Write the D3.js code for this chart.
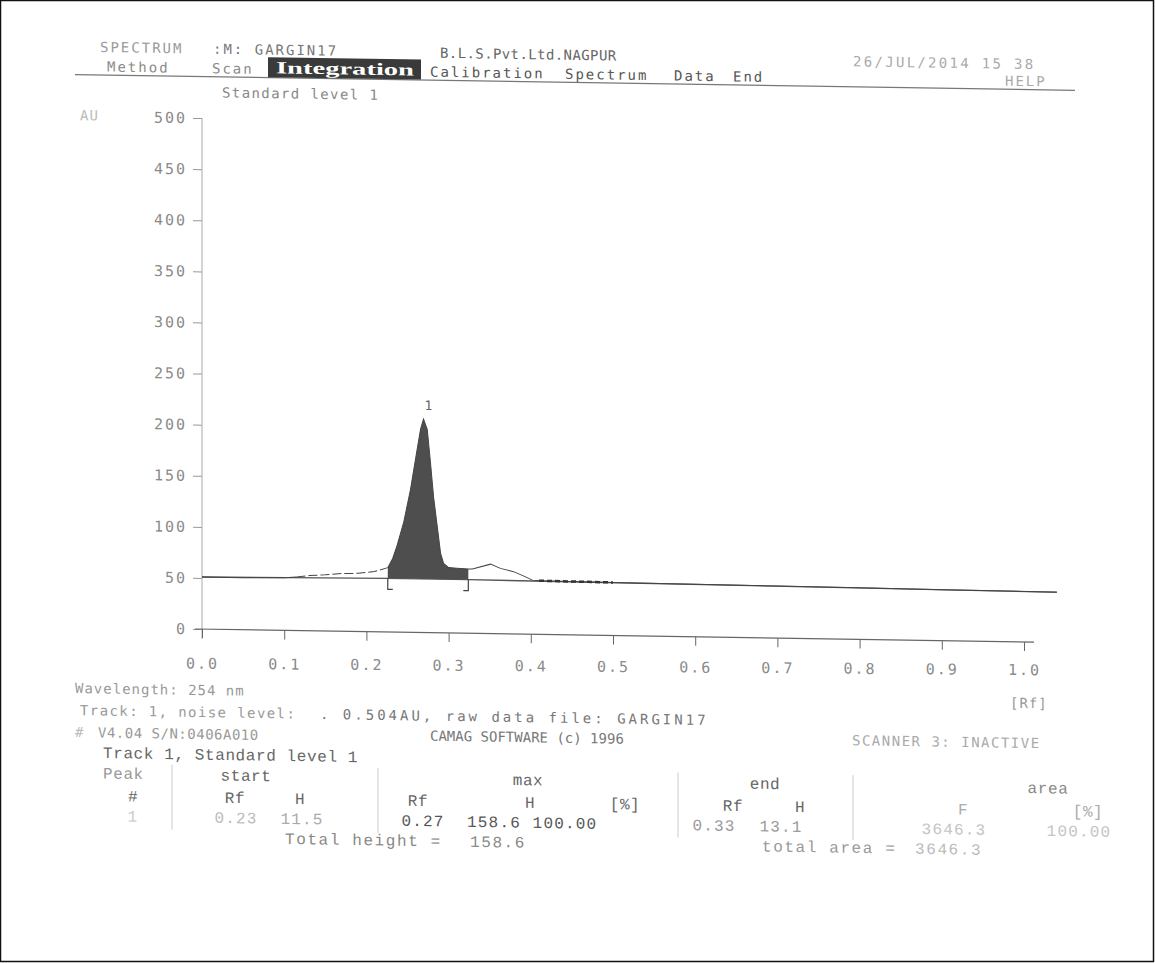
<!DOCTYPE html>
<html>
<head>
<meta charset="utf-8">
<script src="https://cdn.jsdelivr.net/npm/d3@7"></script>
<style>
  body { margin: 0; background: #fff; }
  svg { display: block; }
  .dot { font-family: "DejaVu Sans Mono", monospace; }
  .cour { font-family: "Liberation Mono", monospace; }
</style>
</head>
<body>
<svg id="scan"></svg>
<script>
// densitogram trace (Rf, AU)
var traceRf = [0.00, 0.05, 0.10, 0.115, 0.13, 0.15, 0.17, 0.19, 0.21, 0.226,
               0.232, 0.2374, 0.2455, 0.2537, 0.2598, 0.2659, 0.2695, 0.274, 0.278,
               0.2817, 0.2862, 0.2902, 0.2939, 0.30, 0.31, 0.324, 0.329, 0.351,
               0.363, 0.379, 0.391, 0.402, 0.41, 0.50, 0.60, 0.70, 0.80, 0.90, 1.00, 1.04];
var traceAU = [51, 51, 51.5, 52.5, 54, 55, 56.5, 57, 59, 63,
               72, 85, 108, 140, 170, 199, 209, 199, 166,
               133, 104, 78, 68, 64, 63.5, 63, 63, 68,
               64, 61, 57, 53, 52.5, 52, 51.5, 51, 50.5, 50, 49.5, 49.3];

// integration baseline
var baseRf = [0.00, 0.226, 0.324, 1.04];
var baseAU = [51, 52.5, 52.5, 49.3];

var peakStart = 0.226, peakEnd = 0.324;
var peakMaxRf = 0.2695, peakMaxAU = 209;
var peakNo = "1";

var yTicks = [0, 50, 100, 150, 200, 250, 300, 350, 400, 450, 500];
var xTicks = [0, 0.1, 0.2, 0.3, 0.4, 0.5, 0.6, 0.7, 0.8, 0.9, 1.0];

// results table
var tableGroups = ["Peak", "start", "max", "end", "area"];
var tableCols = ["#", "Rf", "H", "Rf", "H", "[%]", "Rf", "H", "F", "[%]"];
var tableRow1 = ["1", "0.23", "11.5", "0.27", "158.6", "100.00", "0.33", "13.1", "3646.3", "100.00"];
var totalHeight = "158.6";
var totalArea = "3646.3";

var W = 1155, H = 963;
var svg = d3.select("#scan").attr("width", W).attr("height", H);

// page frame
svg.append("rect")
    .attr("x", 0.5).attr("y", 0.5)
    .attr("width", W - 2).attr("height", H - 2)
    .attr("fill", "none").attr("stroke", "#111").attr("stroke-width", 1.5);

// the scanned sheet is a little skewed, tilt everything the same way
var page = svg.append("g")
    .attr("transform", "translate(577,480) skewY(0.9) translate(-577,-480)");

var x = d3.scaleLinear().domain([0, 1]).range([202, 1024]);
var y = d3.scaleLinear().domain([0, 500]).range([635, 124]);

function txt(t, px, py, opt) {
  opt = opt || {};
  return page.append("text")
      .attr("class", opt.cls || "dot")
      .attr("x", px).attr("y", py)
      .attr("text-anchor", opt.anchor || "start")
      .attr("fill", opt.fill || "#777")
      .style("font-size", (opt.size || 14) + "px")
      .style("letter-spacing", (opt.ls == null ? 2 : opt.ls) + "px")
      .text(t);
}

// ---- header ----
txt("SPECTRUM", 100, 59.5, {fill: "#9a9a9a"});
txt(":M: GARGIN17", 213, 59.5, {fill: "#777"});
txt("B.L.S.Pvt.Ltd.NAGPUR", 440, 60, {fill: "#666", ls: 0.4});
txt("26/JUL/2014 15 38", 853, 62, {fill: "#aaa", ls: 2.3});

page.append("line")
    .attr("x1", 75).attr("x2", 1075).attr("y1", 82.5).attr("y2", 82.5)
    .attr("stroke", "#777").attr("stroke-width", 1.2);

txt("Method", 107, 79, {fill: "#8a8a8a"});
txt("Scan", 212, 79, {fill: "#8a8a8a"});
page.append("rect")
    .attr("x", 268).attr("y", 62).attr("width", 153).attr("height", 20)
    .attr("fill", "#3a3a3a");
page.append("text")
    .attr("x", 276).attr("y", 78)
    .attr("fill", "#fff")
    .attr("textLength", 138).attr("lengthAdjust", "spacingAndGlyphs")
    .style("font-family", "'Liberation Serif', serif")
    .style("font-weight", "bold")
    .style("font-size", "17px")
    .text("Integration");
txt("Calibration", 430, 79, {fill: "#555"});
txt("Spectrum", 565, 79, {fill: "#555"});
txt("Data", 674, 79, {fill: "#555"});
txt("End", 733, 79, {fill: "#555"});
txt("HELP", 1005, 79, {fill: "#aaa"});

txt("Standard level 1", 222, 103, {fill: "#888", ls: 1.4});
txt("AU", 80, 128, {fill: "#bbb", ls: 1});

// ---- axes ----
var yAxis = page.append("g")
    .attr("transform", "translate(" + x(0) + ",0)")
    .call(d3.axisLeft(y).tickValues(yTicks).tickSize(9).tickPadding(6)
          .tickFormat(d3.format("d")));
yAxis.select(".domain").remove();
yAxis.selectAll(".tick line").attr("stroke", "#999");
yAxis.selectAll(".tick text")
    .attr("fill", "#8a8a8a")
    .style("font-size", "15px").style("letter-spacing", "2px")
    .style("font-family", "'DejaVu Sans Mono', monospace");

page.append("line")
    .attr("x1", x(0)).attr("x2", x(0))
    .attr("y1", y(500)).attr("y2", y(0) + 10)
    .attr("stroke", "#aaa").attr("stroke-width", 1);

var xAxis = page.append("g")
    .attr("transform", "translate(0," + y(0) + ")")
    .call(d3.axisBottom(x).tickValues(xTicks).tickSize(9).tickPadding(20)
          .tickFormat(d3.format(".1f")));
xAxis.select(".domain").remove();
xAxis.selectAll(".tick line").attr("stroke", "#666");
xAxis.selectAll(".tick text")
    .attr("fill", "#8a8a8a")
    .attr("y", function (d) { return 29 - 0.008 * (x(d) - x(0)); })
    .style("font-size", "15px").style("letter-spacing", "2px")
    .style("font-family", "'DejaVu Sans Mono', monospace");

page.append("line")
    .attr("x1", x(0) - 7).attr("x2", x(1) + 10)
    .attr("y1", y(0)).attr("y2", y(0))
    .attr("stroke", "#666").attr("stroke-width", 1.2);

// ---- trace ----
var trace = traceRf.map(function (r, i) { return [r, traceAU[i]]; });
var base = baseRf.map(function (r, i) { return [r, baseAU[i]]; });
var peakBase = d3.scaleLinear().domain(baseRf).range(baseAU);

function part(a, b) {
  return trace.filter(function (d) { return d[0] >= a && d[0] <= b; });
}

page.append("path")
    .datum(part(peakStart, peakEnd))
    .attr("fill", "#4e4e4e")
    .attr("d", d3.area()
        .x(function (d) { return x(d[0]); })
        .y0(function (d) { return y(peakBase(d[0])); })
        .y1(function (d) { return y(d[1]); }));

var line = d3.line()
    .x(function (d) { return x(d[0]); })
    .y(function (d) { return y(d[1]); });

page.append("path")
    .datum(base)
    .attr("fill", "none").attr("stroke", "#555").attr("stroke-width", 1.3)
    .attr("d", line);

page.append("path")
    .datum(part(0, 0.115))
    .attr("fill", "none").attr("stroke", "#444").attr("stroke-width", 1)
    .attr("d", line);
page.append("path")
    .datum(part(0.115, peakStart))
    .attr("fill", "none").attr("stroke", "#444").attr("stroke-width", 1)
    .attr("stroke-dasharray", "9,3")
    .attr("d", line);
page.append("path")
    .datum(part(peakStart, 1.1))
    .attr("fill", "none").attr("stroke", "#444").attr("stroke-width", 1)
    .attr("d", line);

page.append("path")
    .datum(part(0.41, 0.5))
    .attr("fill", "none").attr("stroke", "#333").attr("stroke-width", 2.5)
    .attr("stroke-dasharray", "5,3")
    .attr("d", line);

// integration marks
[[peakStart, 1], [peakEnd, -1]].forEach(function (m) {
  var bx = x(m[0]), by = y(peakBase(m[0]));
  page.append("path")
      .attr("d", "M" + bx + "," + by + "V" + (by + 11) + "h" + (5 * m[1]))
      .attr("fill", "none").attr("stroke", "#444").attr("stroke-width", 1.2);
});

page.append("text")
    .attr("x", x(peakMaxRf) + 5).attr("y", y(peakMaxAU) - 9)
    .attr("text-anchor", "middle").attr("fill", "#666")
    .style("font-family", "'DejaVu Sans Mono', monospace").style("font-size", "13px")
    .text(peakNo);

// ---- footer ----
txt("Wavelength: 254 nm", 75, 701, {fill: "#999", ls: 1});
txt("[Rf]", 1010, 701, {fill: "#999", ls: 1});
txt("Track:  1, noise level:", 80, 723, {fill: "#999", ls: 1.4});
txt(". 0.504AU, raw data file: GARGIN17", 320, 723, {fill: "#777", ls: 3});
txt("#", 75, 745, {fill: "#bbb", ls: 0});
txt("V4.04 S/N:0406A010", 98, 745, {fill: "#999", ls: 0.5});
txt("CAMAG SOFTWARE (c) 1996", 430, 743, {fill: "#777", ls: 0});
txt("SCANNER 3: INACTIVE", 852, 741, {fill: "#aaa", ls: 1.5});

var tf = 16, tls = 0.6;
txt("Track 1, Standard level 1", 103, 765.5, {cls: "cour", fill: "#666", size: tf, ls: tls});

var groupX = [103, 246, 528, 765, 1048];
var groupFill = ["#999", "#666", "#666", "#666", "#888"];
tableGroups.forEach(function (t, i) {
  txt(t, groupX[i], 786, {cls: "cour", fill: groupFill[i], size: tf, ls: tls,
      anchor: i === 0 ? "start" : "middle"});
});
var colX = [133, 235, 300, 418, 530, 625, 733, 800, 963, 1088];
tableCols.forEach(function (t, i) {
  txt(t, colX[i], 808.5, {cls: "cour", fill: i >= 8 ? "#aaa" : "#666", size: tf, ls: tls,
      anchor: "middle"});
});
var valX = [133, 236, 302, 423, 494, 565, 714, 781, 954, 1079];
var valFill = ["#ccc", "#bbb", "#aaa", "#555", "#555", "#555", "#999", "#999", "#c4c4c4", "#c4c4c4"];
tableRow1.forEach(function (t, i) {
  txt(t, valX[i], 828.5, {cls: "cour", fill: valFill[i], size: tf, ls: 1.2, anchor: "middle"});
});
[172, 378, 678, 853].forEach(function (sx) {
  page.append("line")
      .attr("x1", sx).attr("x2", sx).attr("y1", 771).attr("y2", 836)
      .attr("stroke", "#ccc").attr("stroke-width", 1);
});
txt("Total height =", 285, 848.5, {cls: "cour", fill: "#888", size: tf, ls: 1.6});
txt(totalHeight, 470, 848.5, {cls: "cour", fill: "#888", size: tf, ls: 1.6});
txt("total area =", 762, 848.5, {cls: "cour", fill: "#999", size: tf, ls: 1.6});
txt(totalArea, 915, 848.5, {cls: "cour", fill: "#bbb", size: tf, ls: 1.6});
</script>
</body>
</html>
